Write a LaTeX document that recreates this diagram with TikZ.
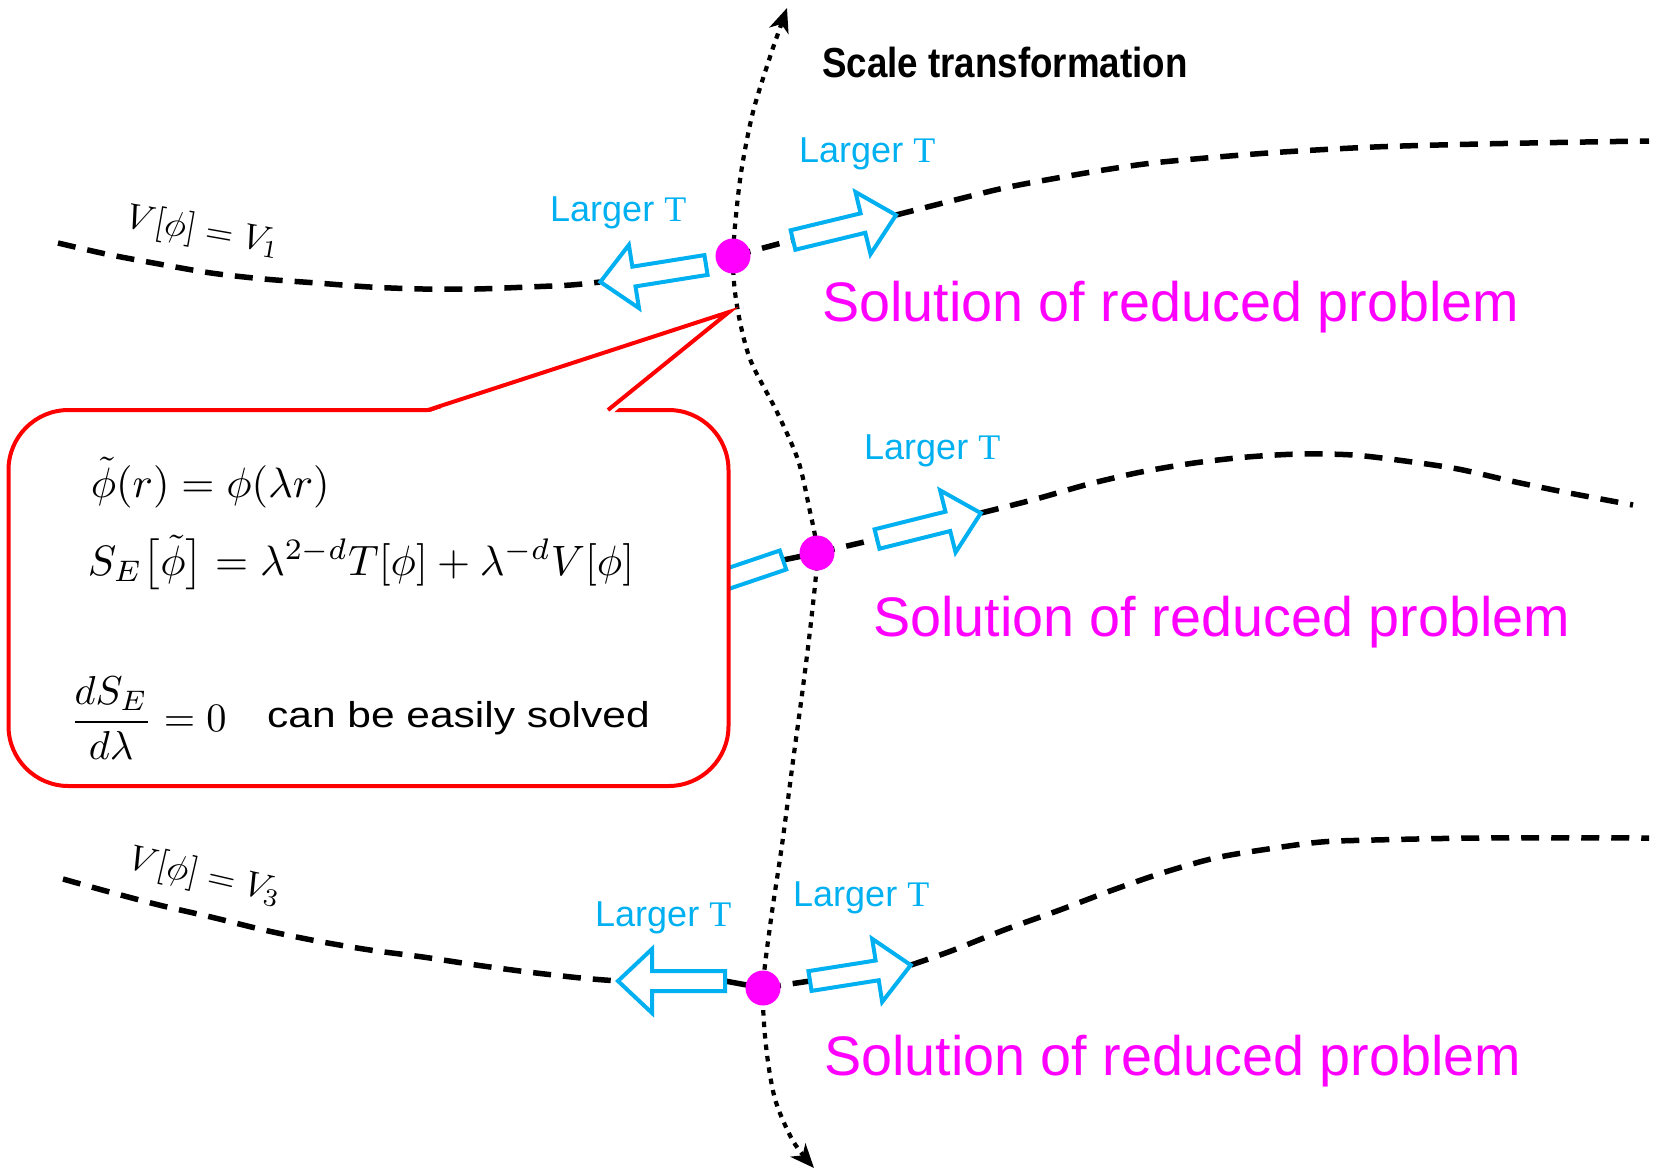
\documentclass[tikz,border=0pt]{standalone}
\usepackage[no-math]{fontspec}
\setmainfont{Liberation Sans}
\newfontfamily\lsans{Liberation Sans}
\newfontfamily\condsans[FakeStretch=0.875]{Liberation Sans}
\newfontfamily\widesans[FakeStretch=1.18]{Liberation Sans}
\newfontfamily\lserif{Liberation Serif}
\usetikzlibrary{arrows.meta}
\definecolor{cyanc}{HTML}{00B0F0}
\definecolor{magc}{HTML}{FF00FF}
\definecolor{redc}{HTML}{FF0000}
\begin{document}
\begin{tikzpicture}[x=1pt,y=-1pt,
  dashc/.style={line width=5.5pt, dash pattern=on 18pt off 12pt},
  dotc/.style={line width=4.2pt, dash pattern=on 5.5pt off 6pt},
  harrow/.style={draw=cyanc, fill=white, line width=4pt, line join=miter},
  soldot/.style={circle, fill=magc, inner sep=0pt, minimum size=35pt},
  largert/.style={text=cyanc, font=\lsans\fontsize{36}{40}\selectfont, inner sep=0pt, anchor=base west},
  soltext/.style={text=magc, font=\lsans\fontsize{55.7}{60}\selectfont, inner sep=0pt, anchor=base west},
  mathbig/.style={scale=4.25, inner sep=0pt},
  vlabel/.style={scale=3.6, inner sep=0pt},
  pics/barrow/.style={code={\draw[harrow] (0,-10) -- ({#1-34},-10) -- ({#1-34},-32) -- (#1,0) -- ({#1-34},32) -- ({#1-34},10) -- (0,10) -- cycle;}},
]
\useasboundingbox (0,0) rectangle (1657,1171);
% key points
\coordinate (c1) at (733,256);
\coordinate (c2) at (817,553);
\coordinate (c3) at (763,988);
\coordinate (tailA) at (706,265);
\coordinate (tipA) at (600,282);
\coordinate (tailB) at (793,240);
\coordinate (tipB) at (896,215);
\coordinate (tailC) at (877,539);
\coordinate (tipC) at (981,513);
\coordinate (tailD) at (783,560);
\coordinate (tailE) at (725,981);
\coordinate (tipE) at (618,981);
\coordinate (tailF) at (810,981);
\coordinate (tipF) at (911,965);
\coordinate (top) at (787,8);
\coordinate (bot) at (814,1168);

% dashed level curves
\draw[dashc] plot[smooth] coordinates {(58,243) (106,254) (159,264) (211,273) (264,279) (317,283) (370,287) (423,289) (476,289) (528,287) (571,285) (tipA)};
\draw[dashc, dash phase=0pt] (c1) -- (tailB);
\draw[dashc] plot[smooth] coordinates {(tipB) (951,201) (1004,188) (1057,178) (1110,169) (1162,162) (1268,153) (1374,147) (1480,144) (1585,142) (1649,141)};

\draw[dashc] (c2) -- (tailC);
\draw[line width=5.5pt] (tailD) -- (c2);
\draw[dashc] plot[smooth] coordinates {(tipC) (1036,499) (1089,484) (1141,472) (1194,463) (1247,457) (1300,454) (1353,455) (1405,461) (1458,469) (1511,481) (1564,492) (1633,505)};

\draw[dashc] plot[smooth] coordinates {(63,879) (106,891) (159,905) (211,917) (264,930) (317,941) (370,950) (423,957) (476,965) (528,972) (581,978) (tipE)};
\draw[line width=5.5pt] (tailE) -- (c3);
\draw[dashc] (c3) -- (tailF);
\draw[dashc] plot[smooth] coordinates {(tipF) (951,951) (1004,930) (1057,911) (1110,891) (1162,873) (1215,858) (1268,849) (1321,842) (1374,840) (1480,838) (1649,838)};

% scale transformation curve
\draw[dotc, {Stealth[length=24pt,width=20pt,inset=7pt]}-{Stealth[length=24pt,width=20pt,inset=7pt]}]
  plot[smooth] coordinates {(top) (768,63) (752,116) (740,180) (c1) (737,306) (750,359) (777,412) (798,460) (809,507) (c2) (812,613) (803,687) (793,761) (782,845) (771,919) (c3) (766,1046) (775,1099) (793,1141) (bot)};

% hollow arrows
\pic[rotate=189.1] at (tailA) {barrow=107};
\pic[rotate=13.6] at (tailB) {barrow=106};
\pic[rotate=14] at (tailC) {barrow=107};
\pic[rotate=198.7] at (tailD) {barrow=107};
\pic[rotate=180] at (tailE) {barrow=107};
\pic[rotate=9] at (tailF) {barrow=102};

% callout
\node[draw=redc, fill=white, line width=4pt, rounded corners=60pt, minimum width=720pt, minimum height=376pt, inner sep=0pt] (box) at (368.5,598) {};
\fill[white] (424,414) -- (729,312) -- (612,414) -- cycle;
\draw[redc, line width=4pt, line join=miter] (428,410) -- (729,312) -- (608,410);

\node[mathbig, anchor=base west] (eq1) at (90,497) {$\tilde\phi(r)=\phi(\lambda r)$};
\node[mathbig, anchor=base west] (eq2) at (87,575) {$S_E\bigl[\tilde\phi\bigr]=\lambda^{2-d}T[\phi]+\lambda^{-d}V[\phi]$};
\node[mathbig, anchor=west, scale=0.95] (eq3) at (69,718) {$\displaystyle\frac{dS_E}{d\lambda}=0$};
\node[inner sep=0pt, anchor=base west, font=\widesans\fontsize{36}{40}\selectfont] (easy) at (267,727) {can be easily solved};

% dots
\node[soldot] (d1) at (c1) {};
\node[soldot] (d2) at (c2) {};
\node[soldot] (d3) at (c3) {};

% labels
\node[vlabel, rotate=-10] (v1) at (203,232) {$V[\phi]=V_1$};
\node[vlabel, rotate=-13] (v3) at (205,877) {$V[\phi]=V_3$};

\node[largert] (lt1) at (550,221) {Larger {\lserif T}};
\node[largert] (lt2) at (799,162) {Larger {\lserif T}};
\node[largert] (lt3) at (864,459) {Larger {\lserif T}};
\node[largert] (lt4) at (595,926) {Larger {\lserif T}};
\node[largert] (lt5) at (793,906) {Larger {\lserif T}};

\node[soltext] (s1) at (822,321) {Solution of reduced problem};
\node[soltext] (s2) at (873,636) {Solution of reduced problem};
\node[soltext] (s3) at (824,1075) {Solution of reduced problem};

\node[inner sep=0pt, anchor=base west, font=\condsans\bfseries\fontsize{42}{46}\selectfont] (scl) at (822,77) {Scale transformation};
\end{tikzpicture}
\end{document}
